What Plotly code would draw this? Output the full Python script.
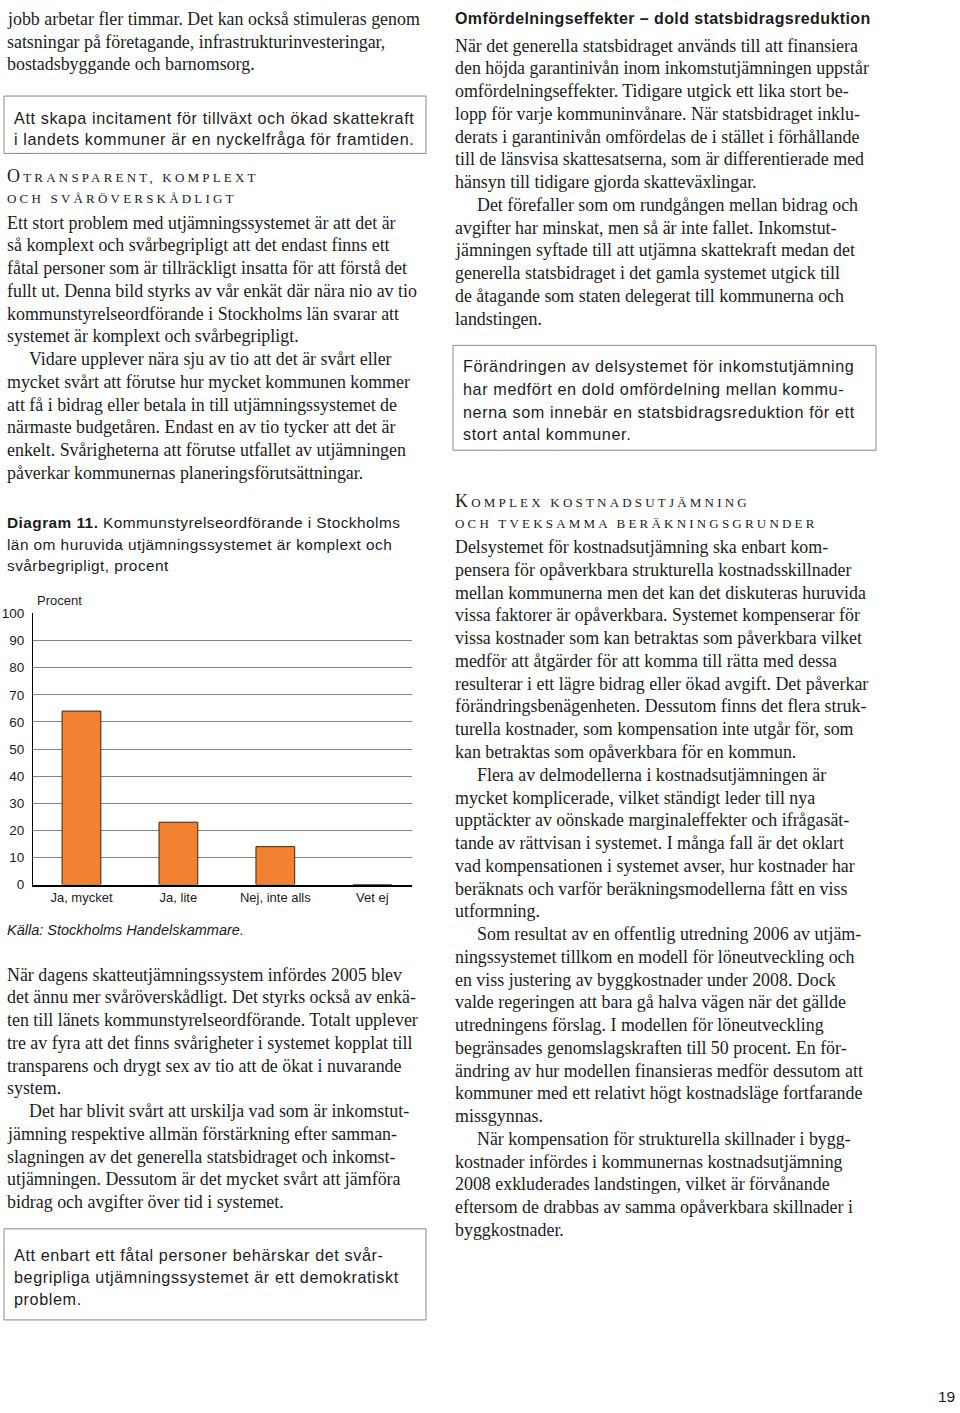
import plotly.graph_objects as go

W, H = 960, 1413


def px(x):
    return x / W


def py(y):
    return 1 - y / H


# ---------------- chart data ----------------
categories = ["Ja, mycket", "Ja, lite", "Nej, inte alls", "Vet ej"]
values = [64, 23, 14, 0]
y_ticks = [0, 10, 20, 30, 40, 50, 60, 70, 80, 90, 100]

# ---------------- page text ----------------
top_left = [
    "jobb arbetar fler timmar. Det kan också stimuleras genom",
    "satsningar på företagande, infrastrukturinvesteringar,",
    "bostadsbyggande och barnomsorg.",
]
box1 = [
    "Att skapa incitament för tillväxt och ökad skattekraft",
    "i landets kommuner är en nyckelfråga för framtiden.",
]
head1 = ["Otransparent, komplext", "och svåröverskådligt"]
body1 = [
    [
        "Ett stort problem med utjämningssystemet är att det är",
        "så komplext och svårbegripligt att det endast finns ett",
        "fåtal personer som är tillräckligt insatta för att förstå det",
        "fullt ut. Denna bild styrks av vår enkät där nära nio av tio",
        "kommunstyrelseordförande i Stockholms län svarar att",
        "systemet är komplext och svårbegripligt.",
    ],
    [
        "Vidare upplever nära sju av tio att det är svårt eller",
        "mycket svårt att förutse hur mycket kommunen kommer",
        "att få i bidrag eller betala in till utjämningssystemet de",
        "närmaste budgetåren. Endast en av tio tycker att det är",
        "enkelt. Svårigheterna att förutse utfallet av utjämningen",
        "påverkar kommunernas planeringsförutsättningar.",
    ],
]
caption_bold = "Diagram 11."
caption = [
    " Kommunstyrelseordförande i Stockholms",
    "län om huruvida utjämningssystemet är komplext och",
    "svårbegripligt, procent",
]
y_title = "Procent"
source = "Källa: Stockholms Handelskammare."
body2 = [
    [
        "När dagens skatteutjämningssystem infördes 2005 blev",
        "det ännu mer svåröverskådligt. Det styrks också av enkä-",
        "ten till länets kommunstyrelseordförande. Totalt upplever",
        "tre av fyra att det finns svårigheter i systemet kopplat till",
        "transparens och drygt sex av tio att de ökat i nuvarande",
        "system.",
    ],
    [
        "Det har blivit svårt att urskilja vad som är inkomstut-",
        "jämning respektive allmän förstärkning efter samman-",
        "slagningen av det generella statsbidraget och inkomst-",
        "utjämningen. Dessutom är det mycket svårt att jämföra",
        "bidrag och avgifter över tid i systemet.",
    ],
]
box2 = [
    "Att enbart ett fåtal personer behärskar det svår-",
    "begripliga utjämningssystemet är ett demokratiskt",
    "problem.",
]
head_r = "Omfördelningseffekter – dold statsbidragsreduktion"
body_r1 = [
    [
        "När det generella statsbidraget används till att finansiera",
        "den höjda garantinivån inom inkomstutjämningen uppstår",
        "omfördelningseffekter. Tidigare utgick ett lika stort be-",
        "lopp för varje kommuninvånare. När statsbidraget inklu-",
        "derats i garantinivån omfördelas de i stället i förhållande",
        "till de länsvisa skattesatserna, som är differentierade med",
        "hänsyn till tidigare gjorda skatteväxlingar.",
    ],
    [
        "Det förefaller som om rundgången mellan bidrag och",
        "avgifter har minskat, men så är inte fallet. Inkomstut-",
        "jämningen syftade till att utjämna skattekraft medan det",
        "generella statsbidraget i det gamla systemet utgick till",
        "de åtagande som staten delegerat till kommunerna och",
        "landstingen.",
    ],
]
box3 = [
    "Förändringen av delsystemet för inkomstutjämning",
    "har medfört en dold omfördelning mellan kommu-",
    "nerna som innebär en statsbidragsreduktion för ett",
    "stort antal kommuner.",
]
head2 = ["Komplex kostnadsutjämning", "och tveksamma beräkningsgrunder"]
body_r2 = [
    [
        "Delsystemet för kostnadsutjämning ska enbart kom-",
        "pensera för opåverkbara strukturella kostnadsskillnader",
        "mellan kommunerna men det kan det diskuteras huruvida",
        "vissa faktorer är opåverkbara. Systemet kompenserar för",
        "vissa kostnader som kan betraktas som påverkbara vilket",
        "medför att åtgärder för att komma till rätta med dessa",
        "resulterar i ett lägre bidrag eller ökad avgift. Det påverkar",
        "förändringsbenägenheten. Dessutom finns det flera struk-",
        "turella kostnader, som kompensation inte utgår för, som",
        "kan betraktas som opåverkbara för en kommun.",
    ],
    [
        "Flera av delmodellerna i kostnadsutjämningen är",
        "mycket komplicerade, vilket ständigt leder till nya",
        "upptäckter av oönskade marginaleffekter och ifrågasät-",
        "tande av rättvisan i systemet. I många fall är det oklart",
        "vad kompensationen i systemet avser, hur kostnader har",
        "beräknats och varför beräkningsmodellerna fått en viss",
        "utformning.",
    ],
    [
        "Som resultat av en offentlig utredning 2006 av utjäm-",
        "ningssystemet tillkom en modell för löneutveckling och",
        "en viss justering av byggkostnader under 2008. Dock",
        "valde regeringen att bara gå halva vägen när det gällde",
        "utredningens förslag. I modellen för löneutveckling",
        "begränsades genomslagskraften till 50 procent. En för-",
        "ändring av hur modellen finansieras medför dessutom att",
        "kommuner med ett relativt högt kostnadsläge fortfarande",
        "missgynnas.",
    ],
    [
        "När kompensation för strukturella skillnader i bygg-",
        "kostnader infördes i kommunernas kostnadsutjämning",
        "2008 exkluderades landstingen, vilket är förvånande",
        "eftersom de drabbas av samma opåverkbara skillnader i",
        "byggkostnader.",
    ],
]
page_no = "19"

# ---------------- styles ----------------
SERIF = "Liberation Serif"
SANS = "Liberation Sans"
INK = "#1c1c1c"
BODY = dict(family=SERIF, size=17.9, color=INK)
BOX = dict(family=SANS, size=16.2, color=INK)
CAP = dict(family=SANS, size=15.4, color=INK)
SMALL = dict(family=SANS, size=13, color=INK)
LEAD = 23
INDENT = 22

annotations = []
shapes = []


def line(text, x, y, font, anchor="left", spacing=None):
    if spacing is not None:
        text = "<span style='letter-spacing:%spx'>%s</span>" % (spacing, text)
    annotations.append(dict(
        text=text, x=px(x), y=py(y), xref="paper", yref="paper",
        xanchor=anchor, yanchor="middle", showarrow=False, font=font,
        align="left",
    ))


def paragraphs(paras, x, y0):
    y = y0
    for i, para in enumerate(paras):
        for j, t in enumerate(para):
            ind = INDENT if (j == 0 and i > 0) else 0
            line(t, x + ind, y, BODY)
            y += LEAD
    return y


def box(x0, y0, x1, y1):
    shapes.append(dict(type="rect", xref="paper", yref="paper",
                       x0=px(x0), x1=px(x1), y0=py(y0), y1=py(y1),
                       line=dict(color="#8a8a8a", width=1), fillcolor="rgba(0,0,0,0)"))


def smallcaps(text, x, y):
    # first capital kept large, remaining letters as small capitals
    first, rest = text[0], text[1:]
    if first.isupper():
        t = "<span style='font-size:18px'>%s</span>%s" % (first, rest.upper())
    else:
        t = text.upper()
    line(t, x, y, dict(family=SERIF, size=13, color=INK), spacing=3.2)


# left column
paragraphs([top_left], 5, 12)
box(4, 90, 426, 148)
line(box1[0], 12, 112, BOX, spacing=0.6)
line(box1[1], 12, 133, BOX, spacing=0.6)
smallcaps(head1[0], 5, 171)
smallcaps(head1[1], 5, 194)
paragraphs(body1, 5, 218)
line("<b>" + caption_bold + "</b>" + caption[0], 5, 521, CAP, spacing=0.45)
line(caption[1], 5, 543, CAP, spacing=0.45)
line(caption[2], 5, 564, CAP, spacing=0.45)
line(y_title, 35, 600, SMALL)
line("<i>" + source + "</i>", 5, 933, dict(family=SANS, size=14.5, color=INK))
paragraphs(body2, 5, 978)
box(4, 1235, 426, 1327)
for k, t in enumerate(box2):
    line(t, 12, 1261 + k * 22.5, BOX, spacing=0.6)

# right column
line("<b>" + head_r + "</b>", 453, 12, dict(family=SANS, size=16, color=INK), spacing=0.4)
paragraphs(body_r1, 453, 39)
box(453, 342, 876, 448)
for k, t in enumerate(box3):
    line(t, 461, 363 + k * 23, BOX, spacing=0.6)
smallcaps(head2[0], 453, 499)
smallcaps(head2[1], 453, 522)
paragraphs(body_r2, 453, 546)

line(page_no, 957, 1404, dict(family=SANS, size=15.5, color=INK), anchor="right")

# ---------------- figure ----------------
fig = go.Figure()
fig.add_trace(go.Bar(
    x=categories, y=values, width=0.4,
    marker=dict(color="#F28232", line=dict(color="#3b2616", width=1)),
    hoverinfo="skip",
))

fig.update_layout(
    width=W, height=H,
    margin=dict(l=0, r=0, t=0, b=0),
    paper_bgcolor="white", plot_bgcolor="white",
    showlegend=False,
    xaxis=dict(
        domain=[px(33), px(412)], type="category", range=[-0.5, 3.41],
        showline=True, linecolor="black", linewidth=2, showgrid=False,
        ticks="", tickfont=dict(family=SANS, size=13, color=INK),
        fixedrange=True,
    ),
    yaxis=dict(
        domain=[py(887), py(613)], range=[0, 100], tickvals=y_ticks,
        showline=True, linecolor="black", linewidth=1,
        showgrid=True, gridcolor="#858585", gridwidth=1, zeroline=False,
        ticks="", ticklabelstandoff=5,
        tickfont=dict(family=SANS, size=13.5, color=INK), fixedrange=True,
    ),
    annotations=annotations,
    shapes=shapes,
)

fig.write_html("out.html", config={"displayModeBar": False},
               post_script="document.body.style.margin='0';")
